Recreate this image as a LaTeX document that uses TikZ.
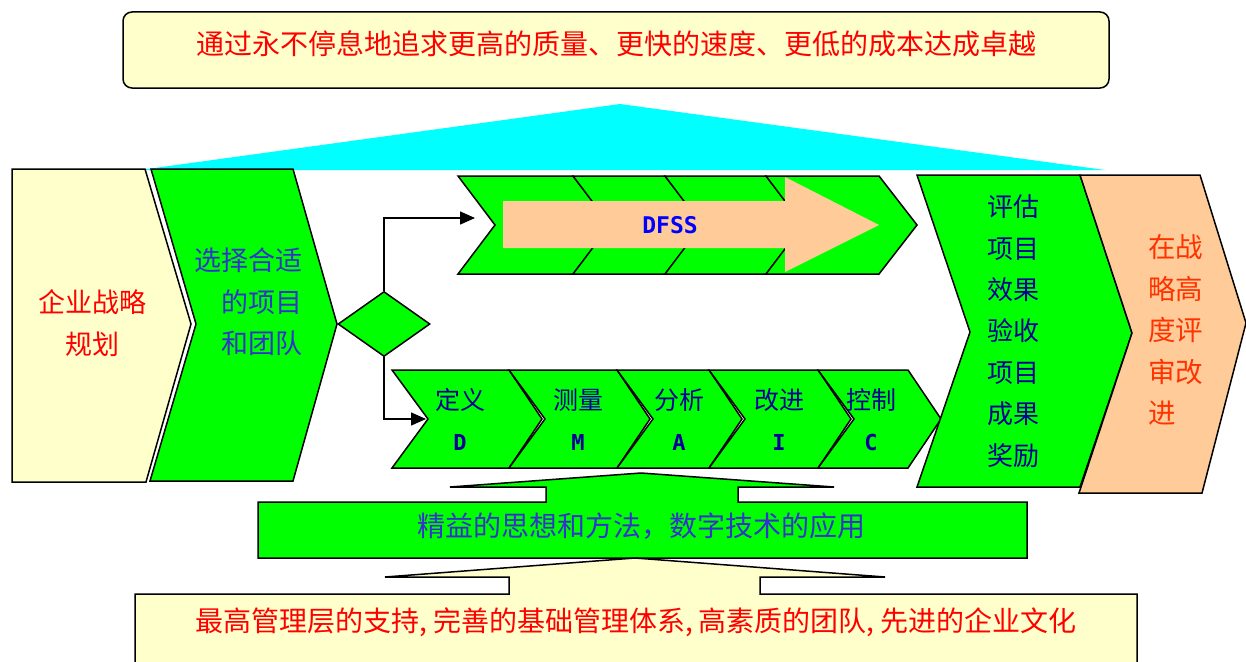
\documentclass[tikz,border=0pt]{standalone}
\usepackage{fontspec}
\setmainfont{Noto Sans CJK SC}
\newfontfamily\monof{DejaVu Sans Mono}
\usetikzlibrary{arrows.meta,shapes.geometric}
\definecolor{lightyel}{HTML}{FFFFCC}
\definecolor{chgreen}{HTML}{00FF00}
\definecolor{peach}{HTML}{FFCC99}
\definecolor{skycyan}{HTML}{00FFFF}
\definecolor{midblue}{HTML}{3333CC}
\definecolor{navyt}{HTML}{000099}
\definecolor{orred}{HTML}{FF3300}
\begin{document}
\begin{tikzpicture}[x=1pt,y=-1pt,
  outline/.style={draw=black,line width=1.5pt,line join=miter},
  chev/.style={outline,fill=chgreen},
  conn/.style={draw=black,line width=1.5pt,-{Triangle[length=15pt,width=13pt]}},
  cjk/.style={inner sep=0pt,font=\fontsize{26}{30}\selectfont},
  dm/.style={cjk,text=navyt,font=\fontsize{25}{30}\selectfont},
  dmlet/.style={inner sep=0pt,text=navyt,font=\monof\bfseries\fontsize{22}{26}\selectfont}]
\useasboundingbox (0,0) rectangle (1246,661);
\clip (0,0) rectangle (1246,661);

% top goal banner
\draw[outline,fill=lightyel,rounded corners=9pt] (123,12) rectangle (1109,88);
\node[cjk,text=red,font=\fontsize{28}{30}\selectfont] (goal) at (616,44) {通过永不停息地追求更高的质量、更快的速度、更低的成本达成卓越};

% cyan roof
\fill[skycyan] (620,104) -- (1105,170) -- (140,170) -- cycle;

% left: strategy planning
\draw[outline,fill=lightyel] (12,169) -- (145,169) -- (191,324) -- (146,482) -- (12,482) -- cycle;
\node[cjk,text=red,align=center,font=\fontsize{27}{42}\selectfont] (strat) at (92,323) {企业战略\\规划};

% select project and team
\draw[chev] (151,169) -- (293,169) -- (337,324) -- (293,481) -- (150,481) -- (196,324) -- cycle;
\node[cjk,text=midblue,align=right,font=\fontsize{27}{41.5}\selectfont,anchor=east] (sel) at (303,302) {选择合适\\的项目\\和团队};

% decision diamond
\node[diamond,draw=black,line width=1.5pt,fill=chgreen,minimum width=92pt,minimum height=65pt,inner sep=0pt] (dia) at (384,324) {};

% DFSS chevrons
\foreach \a/\b in {458/573,573/665,665/766,766/879}{
  \draw[chev] (\a,176) -- (\b,176) -- (\b+38,225) -- (\b,274) -- (\a,274) -- (\a+37,225) -- cycle;}
\fill[peach] (503,201) -- (785,201) -- (785,177) -- (879,225) -- (785,272) -- (785,248) -- (503,248) -- cycle;
\node[inner sep=0pt,text=blue,font=\monof\bfseries\fontsize{23}{28}\selectfont] (dfss) at (670,225) {DFSS};
\coordinate (dfssin) at (475,218);

% DMAIC chevrons
\foreach \a/\b in {392/509,509/617,617/709,709/818,818/908}{
  \draw[chev] (\a,370) -- (\b,370) -- (\b+33,419) -- (\b,468) -- (\a,468) -- (\a+36,419) -- cycle;}
\node[dm] (tD) at (460,400) {定义};
\node[dm] (tM) at (578,400) {测量};
\node[dm] (tA) at (679,400) {分析};
\node[dm] (tI) at (779,400) {改进};
\node[dm] (tC) at (871,400) {控制};
\node[dmlet] (lD) at (460,442) {D};
\node[dmlet] (lM) at (578,442) {M};
\node[dmlet] (lA) at (679,442) {A};
\node[dmlet] (lI) at (779,442) {I};
\node[dmlet] (lC) at (871,442) {C};
\coordinate (dmaicin) at (426,419);

% connectors
\draw[conn] (dia.north) |- (dfssin);
\draw[conn] (dia.south) |- (dmaicin);

% evaluate chevron
\draw[chev] (917,175) -- (1080,175) -- (1132,333) -- (1080,487) -- (917,487) -- (970,332) -- cycle;
\node[cjk,text=navyt,align=left,font=\fontsize{26}{41.4}\selectfont] (eval) at (1013,331) {评估\\项目\\效果\\验收\\项目\\成果\\奖励};

% strategic review chevron
\draw[outline,fill=peach] (1080,175) -- (1200,175) -- (1246,323) -- (1202,493) -- (1079,493) -- (1132,333) -- cycle;
\node[cjk,text=orred,align=left,anchor=west,font=\fontsize{27.5}{41.5}\selectfont] (review) at (1148,330) {在战\\略高\\度评\\审改\\进};

% lean banner with up arrow
\draw[outline,fill=chgreen] (258,502) -- (546,502) -- (546,487) -- (450,487) -- (641,473) -- (834,487) -- (738,487) -- (738,502) -- (1027,502) -- (1027,558) -- (258,558) -- cycle;
\node[cjk,text=midblue,font=\fontsize{28}{30}\selectfont] (lean) at (641,526) {精益的思想和方法，数字技术的应用};

% foundation banner with up arrow
\draw[outline,fill=lightyel] (135,594) -- (509,594) -- (509,577) -- (385,577) -- (635,558) -- (885,577) -- (760,577) -- (760,594) -- (1137,594) -- (1137,680) -- (135,680) -- cycle;
\node[cjk,text=red,font=\fontsize{28}{30}\selectfont] (base) at (636,622) {最高管理层的支持,\hspace{0.2em}完善的基础管理体系,\hspace{0.2em}高素质的团队,\hspace{0.2em}先进的企业文化};
\end{tikzpicture}
\end{document}
